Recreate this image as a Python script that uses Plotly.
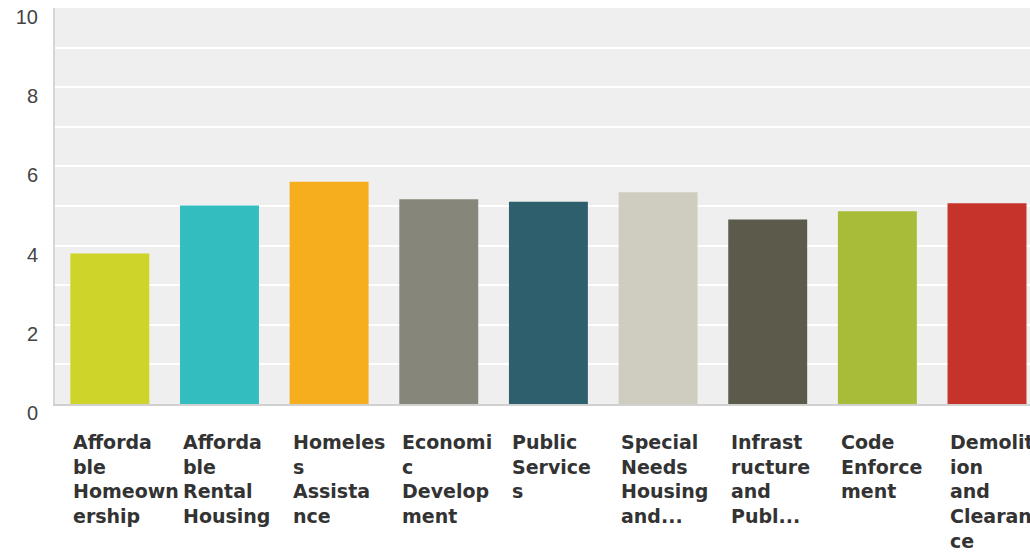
import plotly.graph_objects as go

categories = [
    "Affordable Homeownership",
    "Affordable Rental Housing",
    "Homeless Assistance",
    "Economic Development",
    "Public Services",
    "Special Needs Housing and...",
    "Infrastructure and Publ...",
    "Code Enforcement",
    "Demolition and Clearance",
]
label_lines = [
    ["Afforda", "ble", "Homeown", "ership"],
    ["Afforda", "ble", "Rental", "Housing"],
    ["Homeles", "s", "Assista", "nce"],
    ["Economi", "c", "Develop", "ment"],
    ["Public", "Service", "s"],
    ["Special", "Needs", "Housing", "and..."],
    ["Infrast", "ructure", "and", "Publ..."],
    ["Code", "Enforce", "ment"],
    ["Demolit", "ion", "and", "Clearan", "ce"],
]
values = [3.80, 5.01, 5.61, 5.17, 5.11, 5.35, 4.66, 4.87, 5.07]
colors = ["#cfd42a", "#33bdbf", "#f6ae1f", "#86877a", "#2e5f6c",
          "#cfcdbf", "#5c5a4b", "#a9bc39", "#c6332b"]
yticks = [0, 2, 4, 6, 8, 10]

xs = list(range(len(categories)))

fig = go.Figure()
fig.add_trace(go.Bar(
    x=xs, y=values, width=0.72,
    marker=dict(color=colors, line=dict(width=0)),
    hovertext=categories, hoverinfo="text+y",
))

for i, lines in enumerate(label_lines):
    fig.add_annotation(
        x=i - 0.352, xref="x", xanchor="left",
        y=-0.064, yref="paper", yanchor="top",
        text="<br>".join(lines), align="left", showarrow=False,
        font=dict(family="DejaVu Sans", size=19, color="#333333", weight="bold"),
    )

fig.update_layout(
    width=1030, height=553,
    margin=dict(l=55, r=0, t=8, b=149),
    paper_bgcolor="white", plot_bgcolor="#efefef",
    showlegend=False, bargap=0.28,
)
fig.update_xaxes(
    range=[-0.5, 8.392], showticklabels=False, showgrid=False, zeroline=False,
    showline=True, linecolor="#d0d0d0", linewidth=2, ticks="", automargin=False,
)
fig.update_yaxes(
    range=[0, 10], tickvals=yticks, ticktext=[str(v) for v in yticks],
    showgrid=True, gridcolor="white", gridwidth=2,
    minor=dict(dtick=1, showgrid=True, gridcolor="white", gridwidth=2),
    zeroline=False, showline=True, linecolor="#d6d6d6", linewidth=2,
    ticks="", ticklabelstandoff=11, ticklabelshift=9, automargin=False,
    tickfont=dict(family="Liberation Sans", size=20, color="#444444"),
)

fig.write_html(
    "out.html",
    config={"displayModeBar": False},
    post_script="document.body.style.margin='0';document.body.style.overflow='hidden';",
)
